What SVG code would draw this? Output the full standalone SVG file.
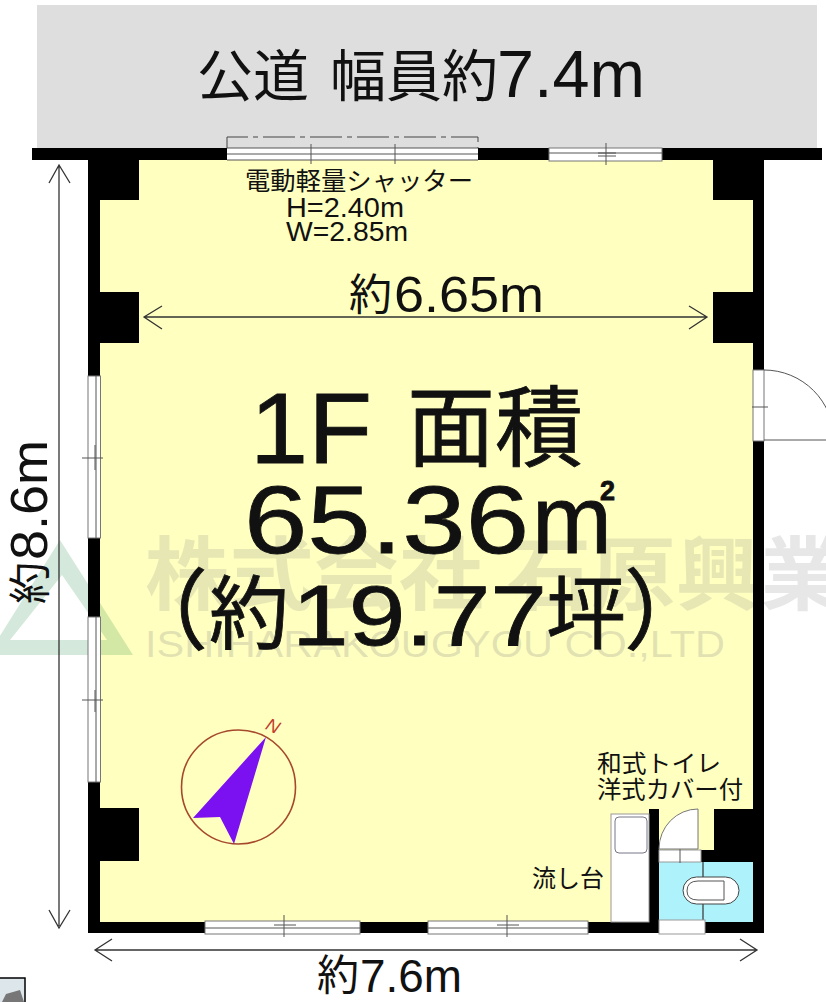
<svg xmlns="http://www.w3.org/2000/svg" width="826" height="1002" viewBox="0 0 826 1002">
<style>
.t{font-family:"Liberation Sans","Noto Sans CJK JP",sans-serif;fill:#111}
.b{stroke:#111;stroke-width:.8}
.w{fill:#000}
.win{fill:#fff;stroke:#777;stroke-width:1}
.ln{stroke:#555;stroke-width:1;fill:none}
.dim{stroke:#333;stroke-width:1.3;fill:none}
</style>
<rect width="826" height="1002" fill="#fff"/>
<rect id="road" x="37" y="5" width="780" height="144" fill="#dedede"/>
<g id="floor"><rect x="95" y="155" width="665" height="770" fill="#ffffc0"/></g>
<g id="watermark">
<path d="M-12 655L60 540L133 655ZM10 640H107L62 575Z" fill="#007828" fill-opacity=".17" fill-rule="evenodd"/>
<text x="145" y="603" font-size="80" font-weight="700" textLength="700" lengthAdjust="spacingAndGlyphs" font-family="Liberation Sans,Noto Sans CJK JP,sans-serif" fill="#888" fill-opacity=".2">株式会社 石原興業</text>
<text x="145" y="657" font-size="36" textLength="580" lengthAdjust="spacingAndGlyphs" font-family="Liberation Sans,sans-serif" fill="#888" fill-opacity=".25">ISHIHARAKOUGYOU CO.,LTD</text>
</g>
<g id="walls">
<rect class="w" x="32" y="148" width="790" height="12"/>
<rect class="w" x="88" y="148" width="12" height="785"/>
<rect class="w" x="753" y="148" width="11" height="785"/>
<rect class="w" x="88" y="922" width="676" height="11"/>
<rect class="w" x="88" y="160" width="51" height="40"/>
<rect class="w" x="88" y="292" width="51" height="51"/>
<rect class="w" x="88" y="808" width="51" height="53"/>
<rect class="w" x="713" y="160" width="51" height="40"/>
<rect class="w" x="713" y="292" width="51" height="51"/>
<rect class="w" x="714" y="809" width="50" height="53"/>
</g>
<g id="shutter">
<rect x="227" y="148" width="251" height="12" fill="#fff"/>
<path class="ln" d="M227 154H478M227 148H478M227 160H478M311 144V164M395 144V164"/>
<path d="M227 148V137H478V148" fill="none" stroke="#444" stroke-width="1" stroke-dasharray="32 5 5 5"/>
</g>
<g id="window-top"><rect class="win" x="549" y="148" width="113" height="13"/><path class="ln" d="M549 153H662M598 153H616M606 143V165M598 156H616"/></g>
<g id="window-left-1"><rect class="win" x="88" y="376" width="12.500" height="162"/><path class="ln" d="M96 376V538M82 458H103M95 445V470"/></g>
<g id="window-left-2"><rect class="win" x="88" y="617" width="12.500" height="165"/><path class="ln" d="M96 617V782M82 700H103M95 690V712"/></g>
<g id="window-bottom-1"><rect class="win" x="205" y="921" width="155" height="13"/><path class="ln" d="M205 928H360M274 925H296M284 915V937"/></g>
<g id="window-bottom-2"><rect class="win" x="428" y="921" width="160" height="13"/><path class="ln" d="M428 928H588M497 925H519M507 915V937"/></g>
<g id="door-right">
<rect class="win" x="753" y="370" width="11" height="71"/>
<path class="ln" d="M764 370A70 70 0 0 1 834 440H764M752 407H768" stroke="#444"/>
</g>
<g id="toilet">
<rect x="659" y="862" width="94" height="60" fill="#aef2fb"/>
<path d="M703 862V920" stroke="#333" stroke-width="1.2"/>
<rect x="649" y="809" width="10" height="113" fill="#000"/>
<rect x="701" y="850" width="13" height="12" fill="#000"/>
<rect x="659" y="850" width="42" height="12" fill="#fff" stroke="#999"/>
<path class="ln" d="M680 846V863"/>
<path d="M659 849H698V809A39 40 0 0 0 659 849Z" fill="#fff" stroke="#777"/>
<rect x="659" y="920" width="46" height="14" fill="#fff" stroke="#999"/>
<rect x="683" y="877" width="56" height="27" rx="13.500" fill="#fff" stroke="#444"/>
<path d="M724 881H698Q687 881 687 891Q687 900 698 900H724M724 881V900" fill="none" stroke="#555"/>
</g>
<g id="sink">
<rect x="611" y="814" width="38" height="108" fill="#fff" stroke="#999"/>
<rect x="615" y="817" width="32" height="36" rx="4" fill="#fff" stroke="#778"/>
</g>
<g id="compass">
<circle cx="238.500" cy="787" r="57" fill="none" stroke="#a5482c" stroke-width="1.6"/>
<path d="M266 737L193 818L220 817L234 844Z" fill="#7b10f0"/>
<text x="267" y="732" font-size="18" font-style="italic" font-family="Liberation Sans,sans-serif" fill="#c0392b" transform="rotate(25 273 725)">N</text>
</g>
<g id="connectors">
<path class="dim" d="M59 166V926M49 183L59 165L70 183M49 910L59 928L70 910"/>
<path class="dim" d="M144 317H707M162 306L144 317L162 329M689 306L707 317L689 329"/>
<path class="dim" d="M95 950H757M112 939L95 950L112 961M740 939L757 950L740 961"/>
</g>
<g id="labels">
<text class="t" y="96"><tspan x="197" font-size="56">公道</tspan> <tspan x="330" font-size="56">幅員約</tspan><tspan x="497" y="97" font-size="66" textLength="148" lengthAdjust="spacingAndGlyphs">7.4m</tspan></text>
<text class="t" x="245" y="190" font-size="25" textLength="228" lengthAdjust="spacingAndGlyphs">電動軽量シャッター</text>
<text class="t" x="286" y="217" font-size="27" textLength="118" lengthAdjust="spacingAndGlyphs">H=2.40m</text>
<text class="t" x="286" y="241" font-size="27" textLength="122" lengthAdjust="spacingAndGlyphs">W=2.85m</text>
<text class="t"><tspan x="349" y="310" font-size="43">約</tspan><tspan x="394" y="312" font-size="50" textLength="150" lengthAdjust="spacingAndGlyphs">6.65m</tspan></text>
<text class="t b"><tspan x="250" y="463" font-size="100" textLength="122" lengthAdjust="spacingAndGlyphs">1F</tspan> <tspan x="407" y="459" font-size="88">面積</tspan></text>
<text class="t b" y="553"><tspan x="244" font-size="96" textLength="285" lengthAdjust="spacingAndGlyphs">65.36</tspan><tspan x="532" font-size="96">m</tspan><tspan x="600" y="500" font-size="27" font-weight="700">2</tspan></text>
<text class="t b"><tspan x="120" y="642" font-size="88">（</tspan><tspan x="209" y="642" font-size="80">約</tspan><tspan x="292" y="645" font-size="86" textLength="255" lengthAdjust="spacingAndGlyphs">19.77</tspan><tspan x="546" y="642" font-size="80">坪</tspan><tspan x="624" y="642" font-size="88">）</tspan></text>
<text class="t" x="597" y="772" font-size="24" textLength="124" lengthAdjust="spacingAndGlyphs">和式トイレ</text>
<text class="t" x="597" y="798" font-size="24" textLength="146" lengthAdjust="spacingAndGlyphs">洋式カバー付</text>
<text class="t" x="532" y="887" font-size="24" textLength="72" lengthAdjust="spacingAndGlyphs">流し台</text>
<text class="t" y="990"><tspan x="317" font-size="42">約</tspan><tspan x="360" y="992" font-size="46" textLength="102" lengthAdjust="spacingAndGlyphs">7.6m</tspan></text>
<text class="t" transform="translate(47 604) rotate(-90)"><tspan x="0" y="-2" font-size="42">約</tspan><tspan x="44" y="0" font-size="52" textLength="120" lengthAdjust="spacingAndGlyphs">8.6m</tspan></text>
</g>
<g id="thumbnail">
<rect x="-2" y="978" width="27" height="26" fill="#dde6ea" stroke="#000" stroke-width="1.500"/>
<path d="M2 1002L6 994L20 990L24 1002Z" fill="#777"/>
</g>
</svg>
